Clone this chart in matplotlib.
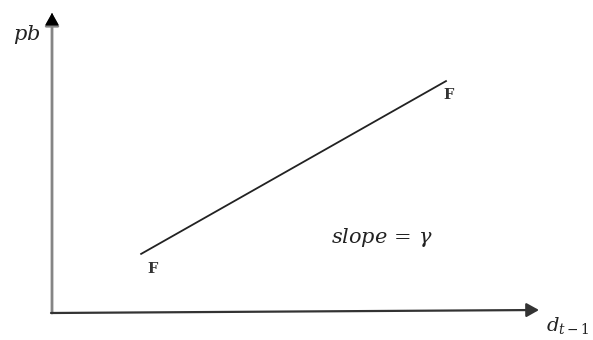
import numpy as np
import matplotlib as mpl
mpl.use('Agg')
import matplotlib.pyplot as plt

# schematic: pb against d_{t-1}, straight line F-F with slope gamma
x_axis_len = 10.0
y_axis_len = 10.0
line_x = [1.83, 8.09]   # lower F, upper F
line_y = [1.97, 7.73]
f_label_x = [2.06, 8.15]
f_label_y = [1.47, 7.27]
f_labels = ['F', 'F']
slope_label = r'$slope\,=\,\gamma$'
slope_pos = (6.78, 2.53)
y_label = r'$pb$'
x_label = r'$d_{t-1}$'

plt.rcParams['mathtext.fontset'] = 'dejavuserif'
fig = plt.figure(figsize=(5.93, 3.40), dpi=100)
ax = fig.add_axes([0, 0, 1, 1])
ax.set_xlim(-1.068, 11.109)
ax.set_ylim(-0.9, 10.433)
ax.axis('off')

# axes with arrow heads
arr = dict(arrowstyle='-|>,head_length=0.75,head_width=0.42', shrinkA=0, shrinkB=0)
ax.annotate('', xy=(0, y_axis_len), xytext=(0, 0),
            arrowprops=dict(arr, color='#858585', lw=2.0))
ax.annotate('', xy=(0, y_axis_len), xytext=(0, y_axis_len - 0.05),
            arrowprops=dict(arr, color='black', lw=1))
ax.annotate('', xy=(x_axis_len, 0.1), xytext=(-0.02, 0),
            arrowprops=dict(arr, color='#333333', lw=1.6))

ax.plot(line_x, line_y, color='#222222', lw=1.3)

for fx, fy, t in zip(f_label_x, f_label_y, f_labels):
    ax.text(fx, fy, t, family='DejaVu Serif', fontsize=10.5, weight='semibold',
            ha='center', va='center', color='#333333')

ax.text(slope_pos[0], slope_pos[1], slope_label, fontsize=15,
        ha='center', va='center', color='#222222')
ax.text(-0.53, 9.27, y_label, fontsize=15, ha='center', va='center', color='#222222')
ax.text(10.14, -0.6, x_label, fontsize=14, ha='left', va='baseline', color='#222222')

plt.savefig('out.png', dpi=100)
plt.close()
